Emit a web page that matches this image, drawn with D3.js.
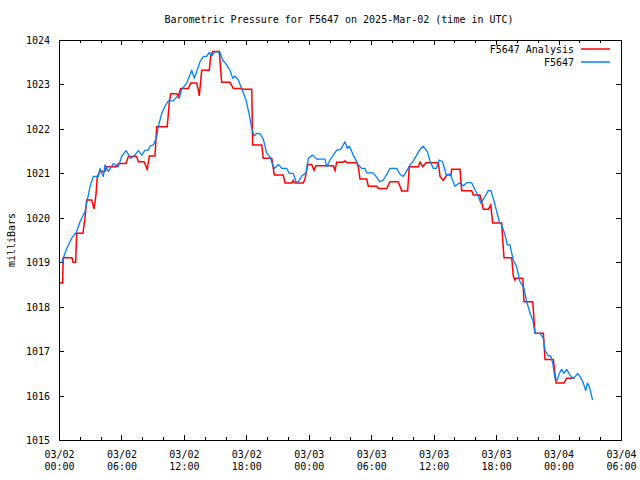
<!DOCTYPE html>
<html>
<head>
<meta charset="utf-8">
<script src="https://cdn.jsdelivr.net/npm/d3@7"></script>
<style>
  html, body { margin: 0; padding: 0; background: #fff; }
  svg { display: block; }
  text { font-family: "DejaVu Sans Mono", "Liberation Mono", monospace; font-size: 10px; fill: #000; }
</style>
</head>
<body>
<script>
// ---------------- DATA ----------------
const titleText = "Barometric Pressure for F5647 on 2025-Mar-02 (time in UTC)";
const yLabel = "milliBars";
const seriesNames = ["F5647 Analysis", "F5647"];
const seriesColors = ["#ff0000", "#0080ff"];
const startTime = Date.UTC(2025, 2, 2, 0, 0); // 03/02 00:00 UTC
const xDomainHours = [0, 54];
const yDomain = [1015, 1024];
const yTickValues = [1015, 1016, 1017, 1018, 1019, 1020, 1021, 1022, 1023, 1024];
const xMajorStepHours = 6;
const xMinorStepHours = 2;

// Analysis (red): [hours since start, mbar]
const analysisData = [
  [0.00,1018.53],[0.35,1018.53],[0.40,1019.10],[1.25,1019.10],[1.35,1019.00],[1.60,1019.00],
  [1.70,1019.65],[2.30,1019.65],[2.50,1020.00],[2.66,1020.40],[3.14,1020.40],[3.36,1020.20],
  [3.55,1020.51],[3.68,1020.93],[3.94,1021.04],[4.42,1021.04],[4.58,1021.15],[5.54,1021.15],
  [5.70,1021.22],[6.44,1021.22],[6.66,1021.38],[7.47,1021.38],[7.62,1021.26],[8.17,1021.26],
  [8.48,1021.09],[8.68,1021.39],[9.22,1021.39],[9.39,1022.05],[10.40,1022.05],[10.60,1022.60],
  [10.73,1022.79],[11.31,1022.79],[11.46,1022.74],[11.69,1022.91],[12.42,1022.91],[12.65,1023.03],
  [13.23,1023.03],[13.39,1022.87],[13.48,1022.74],[13.71,1023.32],[14.44,1023.32],[14.58,1023.64],
  [14.77,1023.74],[15.40,1023.74],[15.63,1023.05],[16.43,1023.05],[16.75,1022.91],[17.55,1022.91],
  [17.65,1022.89],[18.52,1022.89],[18.61,1021.64],[19.48,1021.64],[19.63,1021.34],[20.44,1021.34],
  [20.69,1020.96],[21.55,1020.96],[21.72,1020.78],[22.36,1020.78],[22.49,1020.84],[22.68,1020.78],
  [23.47,1020.78],[23.64,1020.87],[23.90,1021.20],[24.28,1021.20],[24.50,1021.07],[24.69,1021.17],
  [26.36,1021.17],[26.52,1021.06],[26.68,1021.25],[27.29,1021.25],[27.48,1021.28],[27.70,1021.24],
  [28.60,1021.24],[28.76,1021.15],[28.92,1020.87],[29.57,1020.87],[29.72,1020.71],[30.53,1020.71],
  [30.68,1020.66],[31.49,1020.66],[31.80,1020.81],[32.60,1020.81],[32.93,1020.60],[33.50,1020.60],
  [33.66,1021.15],[34.53,1021.15],[34.69,1021.25],[34.95,1021.15],[35.26,1021.24],[36.45,1021.24],
  [36.61,1020.93],[36.93,1020.84],[37.25,1020.96],[37.67,1020.96],[37.73,1021.09],[38.53,1021.09],
  [38.69,1020.61],[39.65,1020.61],[39.81,1020.51],[40.45,1020.51],[40.61,1020.36],[40.77,1020.19],
  [41.25,1020.19],[41.48,1020.29],[41.67,1019.88],[42.54,1019.88],[42.63,1019.51],[42.76,1019.10],
  [43.50,1019.10],[43.65,1018.69],[43.81,1018.60],[43.91,1018.64],[44.56,1018.64],[44.68,1018.11],
  [45.52,1018.11],[45.74,1017.40],[46.54,1017.40],[46.70,1016.81],[47.50,1016.81],[47.76,1016.28],
  [48.52,1016.28],[48.78,1016.39],[49.52,1016.39]
];

// Observations (blue): [hours since start, mbar]
const observedData = [
  [0.25,1018.98],[0.50,1019.15],[0.74,1019.31],[1.22,1019.54],[1.70,1019.69],[2.02,1019.91],
  [2.50,1020.14],[2.66,1020.33],[2.98,1020.70],[3.30,1020.93],[3.78,1020.93],[3.94,1021.11],
  [4.26,1020.93],[4.42,1021.19],[4.74,1021.04],[5.22,1021.22],[5.70,1021.15],[6.02,1021.38],
  [6.44,1021.51],[6.89,1021.34],[7.30,1021.41],[7.62,1021.51],[7.95,1021.41],[8.26,1021.52],
  [8.58,1021.52],[8.74,1021.61],[9.06,1021.64],[9.39,1021.82],[9.54,1022.05],[9.87,1022.35],
  [10.19,1022.51],[10.50,1022.63],[10.98,1022.63],[11.31,1022.72],[11.56,1022.69],[11.79,1022.89],
  [12.27,1023.03],[12.75,1023.32],[13.00,1023.14],[13.39,1023.40],[13.55,1023.51],[13.87,1023.63],
  [14.19,1023.63],[14.44,1023.72],[14.67,1023.64],[14.99,1023.74],[15.47,1023.72],[15.73,1023.55],
  [16.11,1023.44],[16.43,1023.32],[16.69,1023.14],[16.91,1023.19],[17.23,1023.10],[17.55,1022.91],
  [17.97,1022.65],[18.29,1022.31],[18.52,1022.01],[18.74,1021.84],[19.00,1021.90],[19.31,1021.89],
  [19.63,1021.77],[19.96,1021.45],[20.28,1021.37],[20.53,1021.19],[20.69,1021.11],[21.08,1021.20],
  [21.40,1021.11],[21.88,1021.11],[22.13,1021.00],[22.51,1021.00],[22.77,1020.81],[22.99,1020.81],
  [23.32,1020.94],[23.73,1021.01],[23.96,1021.34],[24.37,1021.41],[24.76,1021.32],[25.56,1021.32],
  [25.72,1021.15],[26.04,1021.30],[26.36,1021.41],[26.68,1021.52],[27.07,1021.54],[27.48,1021.71],
  [27.70,1021.56],[27.90,1021.61],[28.28,1021.41],[28.76,1021.19],[29.09,1021.11],[29.40,1021.11],
  [29.56,1021.01],[30.20,1021.01],[30.53,1020.91],[30.84,1020.81],[31.16,1020.85],[31.55,1021.00],
  [31.80,1021.11],[32.45,1021.11],[32.77,1020.98],[33.08,1020.93],[33.40,1021.05],[33.73,1021.19],
  [34.05,1021.28],[34.37,1021.41],[34.69,1021.54],[35.00,1021.61],[35.39,1021.49],[35.65,1021.28],
  [35.97,1021.11],[36.25,1021.11],[36.54,1021.30],[36.86,1021.26],[37.22,1020.96],[37.57,1020.99],
  [38.05,1020.71],[38.50,1020.79],[38.85,1020.72],[39.17,1020.79],[39.65,1020.79],[39.97,1020.63],
  [40.29,1020.49],[40.52,1020.33],[40.84,1020.44],[41.25,1020.61],[41.50,1020.61],[41.73,1020.44],
  [42.06,1020.14],[42.31,1019.91],[42.54,1019.84],[42.86,1019.61],[43.08,1019.39],[43.33,1019.39],
  [43.65,1019.05],[43.97,1018.90],[44.30,1018.56],[44.68,1018.41],[44.94,1018.11],[45.26,1017.85],
  [45.52,1017.70],[45.74,1017.40],[46.22,1017.40],[46.54,1017.29],[46.70,1017.02],[47.02,1016.89],
  [47.25,1016.89],[47.44,1016.73],[47.66,1016.39],[47.88,1016.35],[48.07,1016.50],[48.30,1016.59],
  [48.52,1016.50],[48.78,1016.59],[49.10,1016.46],[49.36,1016.39],[49.58,1016.42],[49.84,1016.50],
  [50.16,1016.39],[50.38,1016.28],[50.61,1016.11],[50.77,1016.28],[50.96,1016.20],[51.27,1015.90]
];

// ---------------- CHART ----------------
const W = 640, H = 480;
const margin = { left: 59, right: 19, top: 40, bottom: 40 };
const hour = 3600 * 1000;
const toDate = h => new Date(startTime + h * hour);

const svg = d3.select("body").append("svg").attr("width", W).attr("height", H);
svg.append("rect").attr("width", W).attr("height", H).attr("fill", "#fff");

const x = d3.scaleUtc()
  .domain(xDomainHours.map(toDate))
  .range([margin.left, W - margin.right]);
const y = d3.scaleLinear()
  .domain(yDomain)
  .range([H - margin.bottom, margin.top]);

const x0 = margin.left, x1 = W - margin.right, y0 = H - margin.bottom, y1 = margin.top;

const majorTicks = d3.range(xDomainHours[0], xDomainHours[1] + 0.001, xMajorStepHours).map(toDate);
const minorTicks = d3.range(xDomainHours[0], xDomainHours[1] + 0.001, xMinorStepHours)
  .filter(h => h % xMajorStepHours !== 0).map(toDate);

const fmtDay = d3.utcFormat("%m/%d");
const fmtTime = d3.utcFormat("%H:%M");

// Bottom axis (labels) via d3.axisBottom, ticks drawn inward
const gx = svg.append("g").attr("transform", `translate(0,${y0})`)
  .call(d3.axisBottom(x).tickValues(majorTicks).tickSize(-5).tickFormat("").tickSizeOuter(0));
gx.select(".domain").remove();
gx.selectAll(".tick line").attr("stroke", "#000").attr("shape-rendering", "crispEdges");
gx.selectAll(".tick").each(function(d) {
  const t = d3.select(this).select("text").text(null).attr("y", 0).attr("dy", null);
  t.append("tspan").attr("x", 0).attr("y", 18).text(fmtDay(d));
  t.append("tspan").attr("x", 0).attr("y", 30).text(fmtTime(d));
});
// bottom minor ticks
const gxm = svg.append("g").attr("transform", `translate(0,${y0})`)
  .call(d3.axisBottom(x).tickValues(minorTicks).tickSize(-3).tickFormat("").tickSizeOuter(0));
gxm.select(".domain").remove();
gxm.selectAll(".tick line").attr("stroke", "#000").attr("shape-rendering", "crispEdges");

// Top mirrored ticks
const gt = svg.append("g").attr("transform", `translate(0,${y1})`)
  .call(d3.axisTop(x).tickValues(majorTicks).tickSize(-5).tickFormat("").tickSizeOuter(0));
gt.select(".domain").remove();
gt.selectAll(".tick line").attr("stroke", "#000").attr("shape-rendering", "crispEdges");
const gtm = svg.append("g").attr("transform", `translate(0,${y1})`)
  .call(d3.axisTop(x).tickValues(minorTicks).tickSize(-3).tickFormat("").tickSizeOuter(0));
gtm.select(".domain").remove();
gtm.selectAll(".tick line").attr("stroke", "#000").attr("shape-rendering", "crispEdges");

// Left axis
const gy = svg.append("g").attr("transform", `translate(${x0},0)`)
  .call(d3.axisLeft(y).tickValues(yTickValues).tickSize(-5).tickPadding(9).tickFormat(d3.format("d")).tickSizeOuter(0));
gy.select(".domain").remove();
gy.selectAll(".tick line").attr("stroke", "#000").attr("shape-rendering", "crispEdges");
gy.selectAll(".tick text").attr("dy", "0.35em");

// Right mirrored ticks
const gr = svg.append("g").attr("transform", `translate(${x1},0)`)
  .call(d3.axisRight(y).tickValues(yTickValues).tickSize(-5).tickFormat("").tickSizeOuter(0));
gr.select(".domain").remove();
gr.selectAll(".tick line").attr("stroke", "#000").attr("shape-rendering", "crispEdges");

// Series lines
const line = d3.line().x(d => x(toDate(d[0]))).y(d => y(d[1]));
const clip = svg.append("clipPath").attr("id", "plotclip")
  .append("rect").attr("x", x0).attr("y", y1).attr("width", x1 - x0).attr("height", y0 - y1);

svg.append("path").datum(analysisData)
  .attr("clip-path", "url(#plotclip)")
  .attr("fill", "none").attr("stroke", seriesColors[0]).attr("stroke-width", 1.5)
  .attr("stroke-linejoin", "miter").attr("d", line);
svg.append("path").datum(observedData)
  .attr("clip-path", "url(#plotclip)")
  .attr("fill", "none").attr("stroke", seriesColors[1]).attr("stroke-width", 1.3)
  .attr("stroke-linejoin", "round").attr("d", line);

// Border box
svg.append("rect").attr("x", x0 + 0.5).attr("y", y1 + 0.5)
  .attr("width", x1 - x0).attr("height", y0 - y1)
  .attr("fill", "none").attr("stroke", "#000").attr("stroke-width", 1)
  .attr("shape-rendering", "crispEdges");

// Title
svg.append("text").attr("x", 339).attr("y", 23).attr("text-anchor", "middle").text(titleText);

// Y label
svg.append("text").attr("transform", `translate(15,${(y0 + y1) / 2}) rotate(-90)`)
  .attr("text-anchor", "middle").text(yLabel);

// Legend
const legend = svg.append("g");
seriesNames.forEach((name, i) => {
  const ly = 49 + i * 13;
  legend.append("text").attr("x", 574).attr("y", ly).attr("dy", "0.35em")
    .attr("text-anchor", "end").text(name);
  legend.append("line").attr("x1", 581).attr("x2", 610).attr("y1", ly).attr("y2", ly)
    .attr("stroke", seriesColors[i]).attr("stroke-width", 1.5);
});
</script>
</body>
</html>
